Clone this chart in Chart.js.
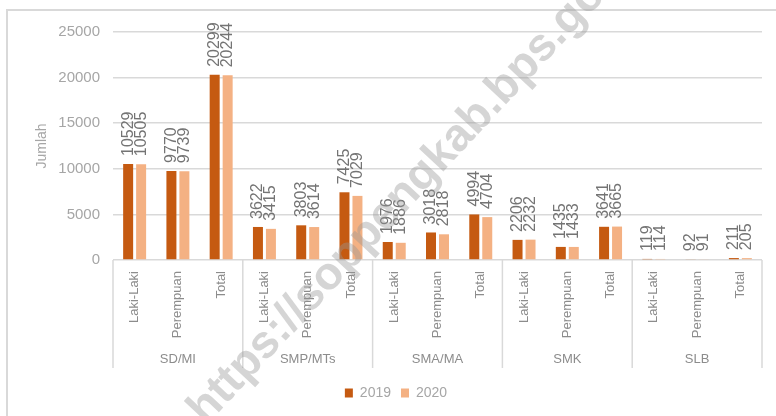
<!DOCTYPE html>
<html>
<head>
<meta charset="utf-8">
<script src="https://cdn.jsdelivr.net/npm/chart.js@4/dist/chart.umd.min.js"></script>
<style>
  html, body { margin: 0; padding: 0; background: #fff; overflow: hidden; }
  #wrap { position: relative; width: 776px; height: 416px; }
  #frame { position: absolute; left: 6px; top: 9px; width: 820px; height: 460px; border: 2px solid #d9d9d9; }
  #chart { position: absolute; left: 0; top: 0; }
</style>
</head>
<body>
<div id="wrap">
  <div id="frame"></div>
  <canvas id="chart" width="776" height="416"></canvas>
</div>
<script>
const jenjang = ['SD/MI', 'SMP/MTs', 'SMA/MA', 'SMK', 'SLB'];
const kelamin = ['Laki-Laki', 'Perempuan', 'Total'];
const tahun = ['2019', '2020'];

const siswa2019 = [10529, 9770, 20299, 3622, 3803, 7425, 1976, 3018, 4994, 2206, 1435, 3641, 119, 92, 211];
const siswa2020 = [10505, 9739, 20244, 3415, 3614, 7029, 1886, 2818, 4704, 2232, 1433, 3665, 114, 91, 205];

const yTicks = [0, 5000, 10000, 15000, 20000, 25000];

const labelSub = [];
jenjang.forEach(() => kelamin.forEach(k => labelSub.push(k)));

const fontFamily = '"Liberation Sans", Arial, sans-serif';

// nilai di atas tiap batang, ditulis tegak
const labelNilai = {
  id: 'labelNilai',
  afterDatasetsDraw(chart) {
    const ctx = chart.ctx;
    ctx.save();
    ctx.font = '16px ' + fontFamily;
    ctx.fillStyle = '#747474';
    ctx.textAlign = 'left';
    ctx.textBaseline = 'middle';
    chart.data.datasets.forEach((ds, i) => {
      chart.getDatasetMeta(i).data.forEach((bar, j) => {
        ctx.save();
        ctx.translate(bar.x, bar.y - 8);
        ctx.rotate(-Math.PI / 2);
        ctx.fillText(String(ds.data[j]), 0, 0);
        ctx.restore();
      });
    });
    ctx.restore();
  }
};

// garis pemisah antar jenjang di bawah sumbu
const pemisahJenjang = {
  id: 'pemisahJenjang',
  afterDraw(chart) {
    const xs = chart.scales.x;
    const x2 = chart.scales.x2;
    const ctx = chart.ctx;
    const w = xs.getPixelForValue(1) - xs.getPixelForValue(0);
    ctx.save();
    ctx.strokeStyle = '#d9d9d9';
    ctx.lineWidth = 1.5;
    for (let g = 0; g <= jenjang.length; g++) {
      const idx = Math.min(g * kelamin.length, labelSub.length - 1);
      const px = g * kelamin.length < labelSub.length
        ? xs.getPixelForValue(idx) - w / 2
        : xs.getPixelForValue(idx) + w / 2;
      ctx.beginPath();
      ctx.moveTo(px, chart.chartArea.bottom);
      ctx.lineTo(px, x2.top + 22);
      ctx.stroke();
    }
    ctx.restore();
  }
};

// tanda air miring
const tandaAir = {
  id: 'tandaAir',
  afterDraw(chart) {
    const ctx = chart.ctx;
    ctx.save();
    ctx.translate(206, 426);
    ctx.rotate(-47 * Math.PI / 180);
    ctx.font = 'bold 46px ' + fontFamily;
    ctx.fillStyle = 'rgba(150, 150, 150, 0.4)';
    ctx.textBaseline = 'alphabetic';
    ctx.fillText('https://soppengkab.bps.go.id', 0, 0);
    ctx.restore();
  }
};

new Chart(document.getElementById('chart'), {
  type: 'bar',
  data: {
    labels: labelSub,
    datasets: [
      {
        label: tahun[0],
        data: siswa2019,
        backgroundColor: '#C55A11',
        categoryPercentage: 0.6,
        barPercentage: 0.77
      }, {
        label: tahun[1],
        data: siswa2020,
        backgroundColor: '#F4B183',
        categoryPercentage: 0.6,
        barPercentage: 0.77
      }]
  },
  options: {
    responsive: false,
    animation: false,
    devicePixelRatio: 1,
    layout: {
      padding: { left: 30, right: 14, top: 32, bottom: 6 }
    },
    plugins: {
      tooltip: { enabled: false },
      legend: {
        position: 'bottom',
        labels: {
          boxWidth: 8,
          boxHeight: 9,
          padding: 10,
          color: '#a6a6a6',
          font: { family: fontFamily, size: 14 }
        }
      }
    },
    scales: {
      x: {
        type: 'category',
        labels: labelSub,
        position: 'bottom',
        weight: 0,
        grid: { display: true, drawOnChartArea: false, drawTicks: false, color: 'transparent' },
        border: { display: false },
        ticks: {
          autoSkip: false,
          minRotation: 90,
          maxRotation: 90,
          padding: 11,
          color: '#8c8c8c',
          font: { family: fontFamily, size: 13 }
        },
        afterFit(s) { s.height = 86; }
      },
      x2: {
        type: 'category',
        labels: jenjang,
        position: 'bottom',
        weight: 1,
        offset: true,
        grid: { display: false, drawTicks: false },
        border: { display: false },
        ticks: {
          padding: 6,
          color: '#8c8c8c',
          font: { family: fontFamily, size: 13 }
        },
        afterFit(s) { s.height = 30; }
      },
      y: {
        min: 0,
        max: 25000,
        afterBuildTicks(s) { s.ticks = yTicks.map(v => ({ value: v })); },
        grid: { color: '#d9d9d9', lineWidth: 1.5, drawTicks: false },
        border: { display: false },
        ticks: {
          padding: 13,
          color: '#a6a6a6',
          font: { family: fontFamily, size: 15 },
          callback: v => String(v)
        },
        title: {
          display: true,
          text: 'Jumlah',
          color: '#a6a6a6',
          padding: 4,
          font: { family: fontFamily, size: 14 }
        },
        afterFit(s) { s.width = 83; }
      }
    }
  },
  plugins: [labelNilai, pemisahJenjang, tandaAir]
});
</script>
</body>
</html>
